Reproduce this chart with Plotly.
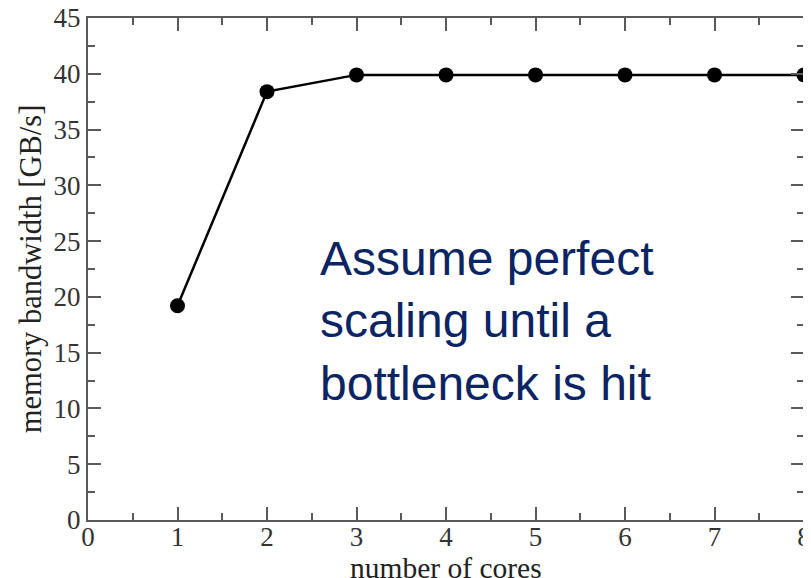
import plotly.graph_objects as go

cores = [1, 2, 3, 4, 5, 6, 7, 8]
bandwidth = [19.2, 38.4, 39.9, 39.9, 39.9, 39.9, 39.9, 39.9]
note = "Assume perfect<br>scaling until a<br>bottleneck is hit"
x_title = "number of cores"
y_title = "memory bandwidth [GB/s]"

fig = go.Figure()
fig.add_trace(go.Scatter(
    x=cores, y=bandwidth, mode="lines+markers",
    line=dict(color="black", width=2.5),
    marker=dict(color="black", size=15),
    cliponaxis=False, showlegend=False,
))

axis_common = dict(
    showgrid=False, zeroline=False, showline=True, linecolor="#5a5a5a", linewidth=2,
    mirror="ticks", ticks="inside", ticklen=13, tickwidth=1.5, tickcolor="#5a5a5a",
    tickfont=dict(family="Liberation Serif", size=27, color="#333333"),
    automargin=False, ticklabeloverflow="allow",
)
fig.update_xaxes(
    range=[0, 8], dtick=1, tick0=0, ticklabelstandoff=-8,
    minor=dict(ticks="inside", ticklen=7, dtick=0.5, tickcolor="#5a5a5a", tickwidth=1.5),
    **axis_common,
)
fig.update_yaxes(
    range=[0, 45], dtick=5, tick0=0,
    minor=dict(ticks="inside", ticklen=7, dtick=2.5, tickcolor="#5a5a5a", tickwidth=1.5),
    title=dict(text=y_title, font=dict(family="Liberation Serif", size=30.5, color="#222222"), standoff=3),
    **axis_common,
)
fig.add_annotation(
    x=0.5, y=-0.132, xref="paper", yref="paper", text=x_title, showarrow=False,
    xanchor="center", yanchor="bottom",
    font=dict(family="Liberation Serif", size=29.5, color="#222222"),
)
fig.add_annotation(
    x=2.57, y=26.0, xref="x", yref="y", text=note, showarrow=False,
    xanchor="left", yanchor="top", align="left",
    font=dict(family="Liberation Sans", size=48, color="#0B2463"),
)
fig.update_layout(
    width=803, height=570, margin=dict(l=80, r=7, t=10, b=58),
    plot_bgcolor="white", paper_bgcolor="white",
)
fig.write_html("out.html")
